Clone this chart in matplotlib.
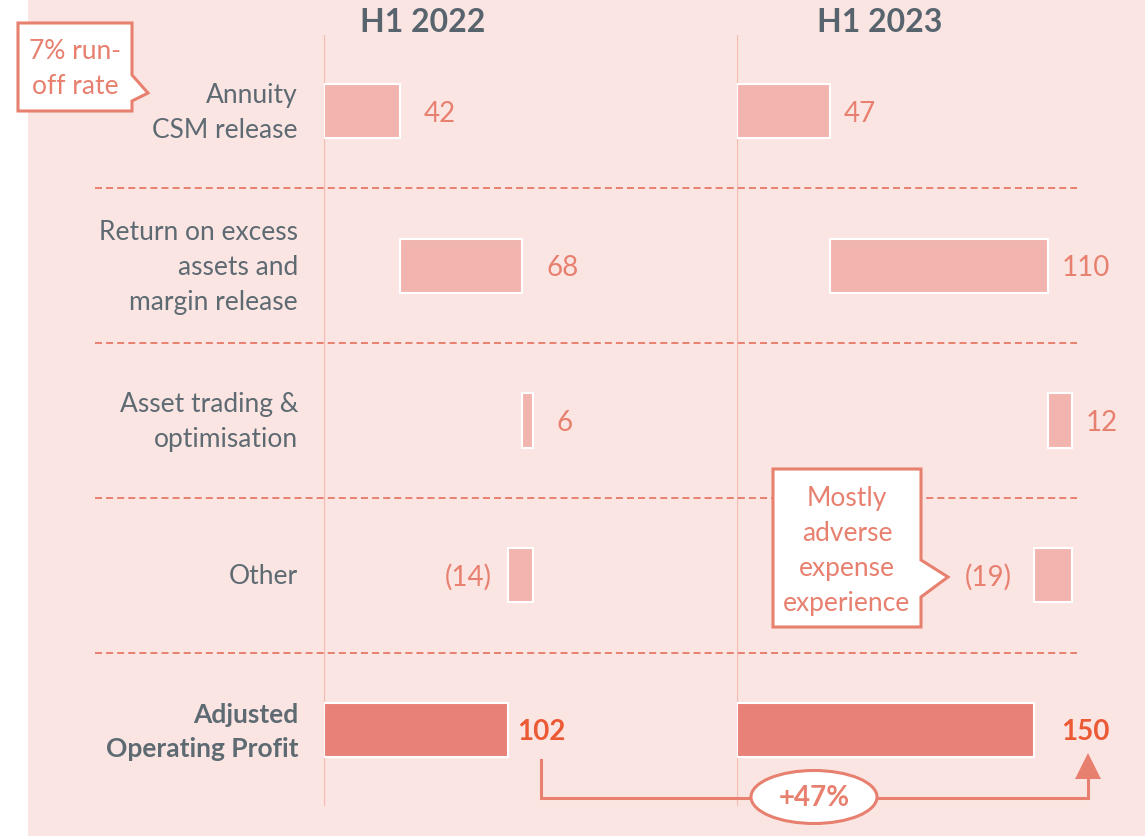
import matplotlib.pyplot as plt
import matplotlib.transforms as mtransforms
from matplotlib.patches import Rectangle, Polygon, Ellipse

plt.rcParams['font.family'] = ['Lato', 'DejaVu Sans']

# data
categories = ['Annuity\nCSM release',
              'Return on excess\nassets and\nmargin release',
              'Asset trading &\noptimisation',
              'Other',
              'Adjusted\nOperating Profit']
periods = ['H1 2022', 'H1 2023']
values_2022 = [42, 68, 6, -14]
values_2023 = [47, 110, 12, -19]
growth_label = '+47%'
note_runoff = '7% run-\noff rate'
note_other = 'Mostly\nadverse\nexpense\nexperience'

# colours
BG = '#FBE5E3'
LIGHT = '#F2B4AE'
DARK = '#E88177'
SALMON = '#E8806F'
ORANGE = '#EB5A35'
GREY = '#5E6A72'
BASE = '#F6BBAF'

W, H = 1145, 836
ROW0, ROWSTEP = 111, 154.75   # pixel centre of first row, row spacing


def ry(px):
    return (px - ROW0) / ROWSTEP


def waterfall(vals):
    lefts, widths, cum = [], [], 0
    for v in vals:
        lefts.append(cum if v >= 0 else cum + v)
        widths.append(abs(v))
        cum += v
    lefts.append(0)
    widths.append(cum)
    return lefts, widths, cum


fig = plt.figure(figsize=(W / 100, H / 100), dpi=100)
fig.add_artist(Rectangle((28 / W, 0), 1 - 28 / W, 1, transform=fig.transFigure,
                         facecolor=BG, edgecolor='none', zorder=-10))

# panel settings: baseline pixel, pixels per unit, label offsets (px)
panel_cfg = [
    dict(x0=324, scale=1.80, vals=values_2022, title_x=423, pos_off=24, neg_off=16, tot_off=10),
    dict(x0=737, scale=1.98, vals=values_2023, title_x=880, pos_off=14, neg_off=22, tot_off=27),
]
PX2PT = 72 / 100

axes = []
for cfg in panel_cfg:
    width_px = 400
    ax = fig.add_axes([cfg['x0'] / W, 0, width_px / W, 1])
    ax.set_xlim(0, width_px / cfg['scale'])
    ax.set_ylim(ry(H), ry(0))
    ax.axis('off')
    lefts, widths, total = waterfall(cfg['vals'])
    rows = list(range(len(lefts)))
    colors = [LIGHT] * len(cfg['vals']) + [DARK]
    ax.vlines(0, ry(35), ry(806), color=BASE, lw=1.6, zorder=0)
    ax.barh(rows, widths, left=lefts, height=0.35, color=colors,
            edgecolor='white', linewidth=1.5, zorder=2)
    for i, v in enumerate(cfg['vals']):
        if v >= 0:
            ax.annotate(f'{v}', (lefts[i] + widths[i], i),
                        xytext=(cfg['pos_off'] * PX2PT, 0), textcoords='offset points',
                        ha='left', va='center_baseline', fontsize=20, color=SALMON)
        else:
            ax.annotate(f'({-v})', (lefts[i], i),
                        xytext=(-cfg['neg_off'] * PX2PT, 0), textcoords='offset points',
                        ha='right', va='center_baseline', fontsize=20, color=SALMON)
    ax.annotate(f'{total}', (total, rows[-1]),
                xytext=(cfg['tot_off'] * PX2PT, 0), textcoords='offset points',
                ha='left', va='center_baseline', fontsize=20, fontweight='bold', color=ORANGE)
    axes.append(ax)

# overlay in pixel coordinates for decorations
ov = fig.add_axes([0, 0, 1, 1])
ov.set_xlim(0, W)
ov.set_ylim(H, 0)
ov.axis('off')
ov.patch.set_visible(False)
blend = mtransforms.blended_transform_factory(ov.transData, axes[0].transData)

for i, cat in enumerate(categories):
    bold = i == len(categories) - 1
    ov.text(298, i + 0.01, cat, transform=blend, ha='right', va='center', fontsize=19,
            color=GREY, fontweight='bold' if bold else 'normal', linespacing=1.5)
for i in range(len(categories) - 1):
    ov.plot([95, 1077], [i + 0.5, i + 0.5], transform=blend, color=SALMON,
            lw=1.4, ls=(0, (3.6, 2.1)), zorder=1)

for cfg, p in zip(panel_cfg, periods):
    ov.text(cfg['title_x'], 23, p, ha='center', va='center', fontsize=23,
            fontweight='bold', color='#58646D')

# callouts
ov.add_patch(Polygon([(18, 23), (132, 23), (132, 75), (148, 93), (132, 101),
                      (132, 111), (18, 111)], closed=True, facecolor='white',
                     edgecolor=SALMON, lw=2.2, zorder=5))
ov.text(75, 69, note_runoff, ha='center', va='center', fontsize=19,
        color=SALMON, linespacing=1.5, zorder=6)
ov.add_patch(Polygon([(773, 469), (921, 469), (921, 560), (948, 577), (921, 597),
                      (921, 627), (773, 627)], closed=True, facecolor='white',
                     edgecolor=SALMON, lw=2.2, zorder=5))
ov.text(847, 551, note_other, ha='center', va='center', fontsize=19,
        color=SALMON, linespacing=1.5, zorder=6)

# growth arrow
ov.plot([541, 541, 1088, 1088], [760, 798, 798, 779], color=SALMON, lw=2.2,
        solid_joinstyle='miter', zorder=4)
ov.add_patch(Polygon([(1075, 779), (1101, 779), (1088, 753)], closed=True,
                     facecolor=SALMON, edgecolor='none', zorder=4))
ov.add_patch(Ellipse((814, 797), 126, 53, facecolor='white', edgecolor=SALMON,
                     lw=2.2, zorder=5))
ov.text(814, 798, growth_label, ha='center', va='center', fontsize=20,
        fontweight='bold', color=SALMON, zorder=6)

fig.savefig('out.png', dpi=100)
